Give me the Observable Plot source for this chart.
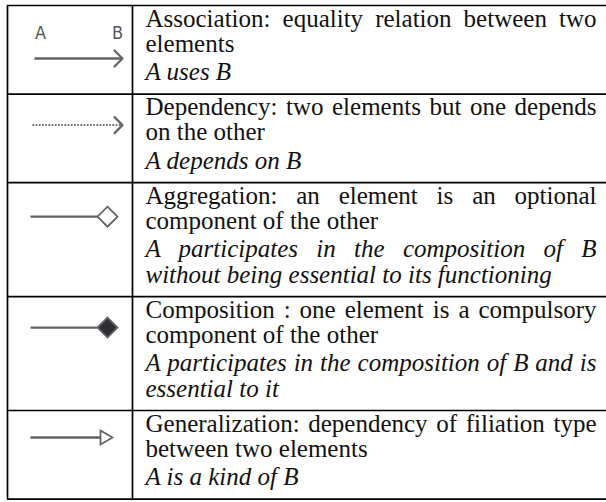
<!DOCTYPE html>
<html>
<head>
<meta charset="utf-8">
<script src="https://cdn.jsdelivr.net/npm/d3@7"></script>
<script src="https://cdn.jsdelivr.net/npm/@observablehq/plot@0.6"></script>
<style>
  html, body { margin: 0; padding: 0; background: #fff; }
  #chart svg { display: block; }
</style>
</head>
<body>
<div id="chart"></div>
<script>
// ---------- data ----------
const relations = ["Association", "Dependency", "Aggregation", "Composition", "Generalization"];
const definitionLines = [
  ["Association: equality relation between two", "elements"],
  ["Dependency: two elements but one depends", "on the other"],
  ["Aggregation: an element is an optional", "component of the other"],
  ["Composition : one element is a compulsory", "component of the other"],
  ["Generalization: dependency of filiation type", "between two elements"]
];
const exampleLines = [
  ["A uses B"],
  ["A depends on B"],
  ["A participates in the composition of B", "without being essential to its functioning"],
  ["A participates in the composition of B and is", "essential to it"],
  ["A is a kind of B"]
];
const endpointLabels = ["A", "B"];

// ---------- layout ----------
const W = 606, H = 502;
const tableLeft = 7, colDivider = 132, tableRight = 606;
const textLeft = 145, textRight = 596;
const tableTop = 5, lineH = 25.3, padTop = 13, exampleGap = 3, padBottom = 22;
const fontSize = 25;
const serif = "Liberation Serif";
const iconColor = "#636363";

const rows = [];
let cursor = tableTop;
relations.forEach((name, i) => {
  const n = definitionLines[i].length + exampleLines[i].length;
  const h = padTop + lineH * (n - 1) + exampleGap + padBottom;
  rows.push({name, i, top: cursor, bottom: cursor + h});
  cursor += h;
});
const tableBottom = cursor;
const boundaries = [tableTop, ...rows.map(r => r.bottom)];

const lines = [];
rows.forEach((r, i) => {
  const nd = definitionLines[i].length;
  definitionLines[i].forEach((t, k, arr) =>
    lines.push({text: t, x: textLeft, y: r.top + padTop + k * lineH, italic: false, justify: k < arr.length - 1}));
  exampleLines[i].forEach((t, k, arr) =>
    lines.push({text: t, x: textLeft, y: r.top + padTop + (nd + k) * lineH + exampleGap, italic: true, justify: k < arr.length - 1}));
});

// icons (geometry relative to each row)
const iconY = {Association: 53, Dependency: 31, Aggregation: 34, Composition: 31, Generalization: 27};
const solidShafts = [], dottedShafts = [], heads = [], diamonds = [], triangles = [], labels = [];
rows.forEach(r => {
  const y = r.top + iconY[r.name];
  if (r.name === "Association") {
    solidShafts.push({x1: 34, x2: 121, y});
    heads.push({id: r.name, tip: 122, y});
    endpointLabels.forEach((l, k) => labels.push({label: l, x: k === 0 ? 40 : 117, y: r.top + 28}));
  } else if (r.name === "Dependency") {
    dottedShafts.push({x1: 32, x2: 120, y});
    heads.push({id: r.name, tip: 122, y});
  } else if (r.name === "Aggregation" || r.name === "Composition") {
    solidShafts.push({x1: 30, x2: 97, y});
    diamonds.push({x: 107, y, filled: r.name === "Composition"});
  } else {
    solidShafts.push({x1: 30, x2: 100, y});
    triangles.push({x: 104, y});
  }
});
const headPoints = heads.flatMap(h => [
  {id: h.id, x: h.tip - 8, y: h.y - 8},
  {id: h.id, x: h.tip, y: h.y},
  {id: h.id, x: h.tip - 8, y: h.y + 8}
]);

const textCommon = {x: "x", y: "y", text: "text", textAnchor: "start", fontFamily: serif, fontSize, fill: "#111"};

const plot = Plot.plot({
  width: W, height: H,
  marginTop: 0, marginRight: 0, marginBottom: 0, marginLeft: 0,
  x: {domain: [0, W], range: [0, W], axis: null},
  y: {domain: [0, H], range: [0, H], axis: null},
  style: {background: "#fff"},
  marks: [
    Plot.ruleY(boundaries, {y: d => d, x1: tableLeft, x2: tableRight, stroke: "#000", strokeWidth: 1.7}),
    Plot.ruleX([tableLeft, colDivider], {x: d => d, y1: tableTop, y2: tableBottom, stroke: "#000", strokeWidth: 1.7}),
    Plot.link(solidShafts, {x1: "x1", x2: "x2", y1: "y", y2: "y", stroke: iconColor, strokeWidth: 2.3}),
    Plot.link(dottedShafts, {x1: "x1", x2: "x2", y1: "y", y2: "y", stroke: iconColor, strokeWidth: 2, strokeDasharray: "1.6,1.6"}),
    Plot.line(headPoints, {x: "x", y: "y", z: "id", stroke: iconColor, strokeWidth: 2.2, curve: "linear"}),
    Plot.dot(diamonds, {x: "x", y: "y", symbol: "diamond2", r: 9, stroke: iconColor, strokeWidth: 1.8, fill: d => d.filled ? "#2e2e33" : "#fff"}),
    Plot.dot(triangles, {x: "x", y: "y", symbol: "triangle2", r: 6.6, rotate: 90, stroke: iconColor, strokeWidth: 1.8, fill: "#fff"}),
    Plot.text(labels, {x: "x", y: "y", text: "label", fontFamily: "DejaVu Sans Condensed", fontSize: 18, fill: "#555"}),
    Plot.text(lines.filter(d => !d.italic), textCommon),
    Plot.text(lines.filter(d => d.italic), {...textCommon, fontStyle: "italic"})
  ]
});
document.getElementById("chart").appendChild(plot);

// justification of the full lines (word spacing)
const lineByText = new Map(lines.map(d => [d.text, d]));
d3.select(plot).selectAll("text").each(function() {
  const d = lineByText.get(this.textContent);
  if (!d || !d.justify) return;
  const natural = this.getComputedTextLength();
  const spaces = (d.text.match(/ /g) || []).length;
  if (spaces > 0) this.setAttribute("word-spacing", ((textRight - textLeft - natural) / spaces).toFixed(3));
});
</script>
</body>
</html>
